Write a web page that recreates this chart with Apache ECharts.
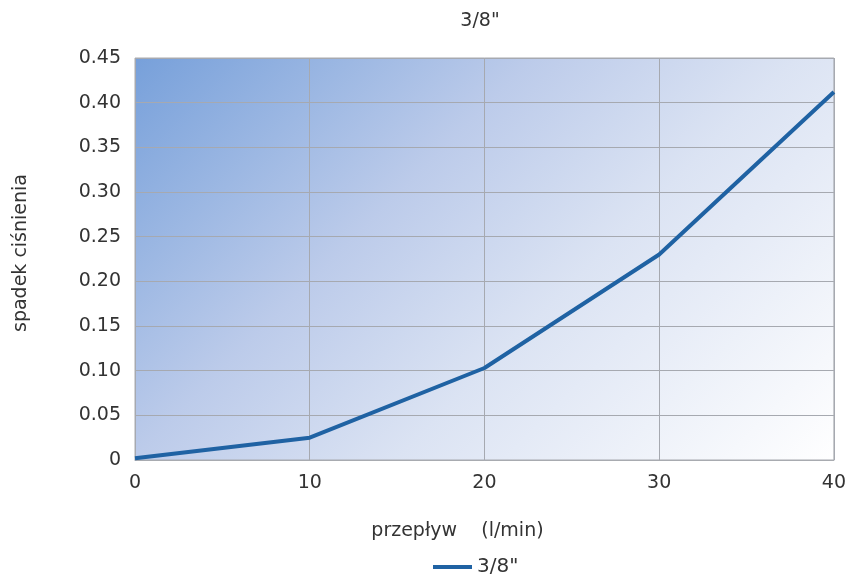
<!DOCTYPE html>
<html><head><meta charset="utf-8">
<script src="https://cdn.jsdelivr.net/npm/echarts@6/dist/echarts.min.js"></script>
<style>html,body{margin:0;padding:0;background:#fff}#c{width:849px;height:582px}</style>
</head><body><div id="c"></div>
<script>
var flow = [0, 10, 20, 30, 40];
var drop = [0.002, 0.025, 0.103, 0.230, 0.412];
var seriesName = '3/8"';
var chart = echarts.init(document.getElementById('c'));
var font = 'DejaVu Sans, sans-serif';
var txt = '#333';
chart.setOption({
  animation: false,
  title: {text: '3/8"', left: 475, top: 7, textAlign: 'center',
    textStyle: {fontSize: 19, fontWeight: 'normal', color: txt, fontFamily: font}},
  grid: {left: 135, right: 13, top: 58, bottom: 122, show: true, borderColor: '#a8abb0', borderWidth: 1,
    backgroundColor: new echarts.graphic.LinearGradient(135, 58, 686, 609, [
      {offset: 0, color: '#77a0da'},
      {offset: 0.2, color: '#9db8e3'},
      {offset: 0.36, color: '#bccbea'},
      {offset: 0.6, color: '#dbe3f3'},
      {offset: 1, color: '#ffffff'}], true)},
  legend: {data: [seriesName], left: 433, top: 557, padding: 0, itemWidth: 39, itemHeight: 4, itemGap: 14, icon: 'rect',
    textStyle: {fontSize: 20, color: txt, fontFamily: font}},
  xAxis: {type: 'value', min: 0, max: 40, interval: 10,
    name: 'przepływ    (l/min)', nameLocation: 'middle', nameGap: 62,
    nameTextStyle: {fontSize: 19, color: txt, fontFamily: font, padding: [0, 54, 0, 0]},
    axisLine: {show: true, lineStyle: {color: '#a8abb0'}}, axisTick: {show: false},
    splitLine: {show: true, lineStyle: {color: '#a6a9b0', width: 1}},
    axisLabel: {fontSize: 19, color: txt, margin: 14, fontFamily: font}},
  yAxis: {type: 'value', min: 0, max: 0.45, interval: 0.05,
    name: 'spadek ciśnienia', nameLocation: 'middle', nameGap: 104, nameRotate: 90,
    nameTextStyle: {fontSize: 19, color: txt, fontFamily: font, padding: [0, 0, 0, 12]},
    axisLine: {show: false}, axisTick: {show: false},
    splitLine: {show: true, lineStyle: {color: '#a6a9b0', width: 1}},
    axisLabel: {fontSize: 19, color: txt, margin: 14, fontFamily: font,
      formatter: function(v){ return v === 0 ? '0' : v.toFixed(2); }}},
  series: [{name: seriesName, type: 'line', data: flow.map(function(x,i){return [x, drop[i]];}),
    showSymbol: false, lineStyle: {color: '#1f62a3', width: 4}, itemStyle: {color: '#1f62a3'}}]
});
</script></body></html>
